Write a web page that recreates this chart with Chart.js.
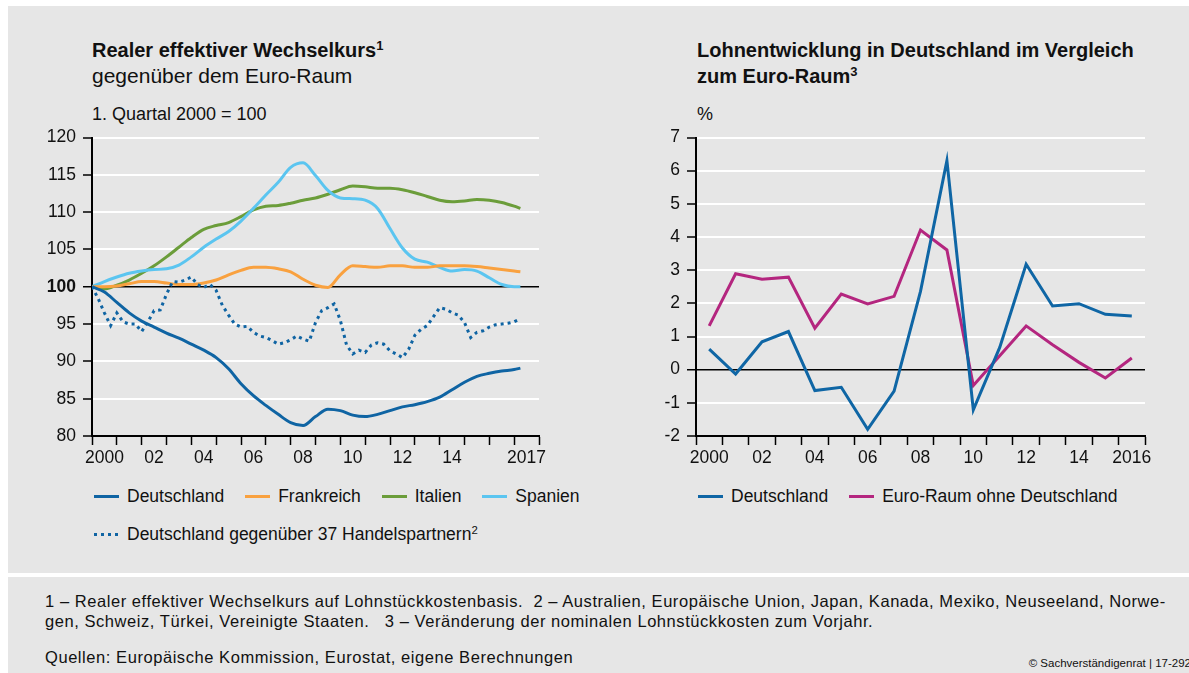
<!DOCTYPE html>
<html lang="de">
<head>
<meta charset="utf-8">
<script src="https://cdn.jsdelivr.net/npm/chart.js@4"></script>
<style>
  body { margin: 0; background: #fff; font-family: "Liberation Sans", Arial, sans-serif; color: #111; }
  #page { position: relative; width: 1189px; height: 673px; overflow: hidden; }
  .panel { position: absolute; left: 8px; width: 1181px; background: #e6e6e6; }
  .abs { position: absolute; white-space: nowrap; }
  .title { font-weight: bold; font-size: 20px; line-height: 26px; }
  .sub { font-size: 21px; line-height: 26px; }
  .small { font-size: 18px; }
  sup { font-size: 65%; line-height: 0; vertical-align: 0.55em; }
  canvas { position: absolute; }
  .leg { position: absolute; font-size: 17.5px; white-space: nowrap; }
  .sw { display: inline-block; width: 25px; height: 3px; margin-right: 8px; vertical-align: middle; position: relative; top: -1px; }
  .item { display: inline-block; margin-right: 16px; }
  .foot { font-size: 16.5px; line-height: 20px; letter-spacing: 0.56px; }
</style>
</head>
<body>
<div id="page">
  <div class="panel" style="top:6px;height:567px;"></div>
  <div class="panel" style="top:577px;height:96px;"></div>

  <div class="abs title" style="left:92px;top:37px;">Realer effektiver Wechselkurs<sup>1</sup></div>
  <div class="abs sub" style="left:92px;top:63px;">gegenüber dem Euro-Raum</div>
  <div class="abs small" style="left:92px;top:104px;">1. Quartal 2000 = 100</div>

  <div class="abs title" style="left:697px;top:37px;">Lohnentwicklung in Deutschland im Vergleich<br>zum Euro-Raum<sup>3</sup></div>
  <div class="abs small" style="left:697px;top:104px;">%</div>

  <canvas id="leftChart" width="530" height="360" style="left:30px;top:120px;"></canvas>
  <canvas id="rightChart" width="530" height="360" style="left:640px;top:120px;"></canvas>

  <div class="leg" style="left:94px;top:486px;">
    <span class="item"><span class="sw" style="background:#0f64a3"></span>Deutschland</span>
    <span class="item"><span class="sw" style="background:#f9a13f"></span>Frankreich</span>
    <span class="item"><span class="sw" style="background:#6b9d3a"></span>Italien</span>
    <span class="item"><span class="sw" style="background:#5bc5f0"></span>Spanien</span>
  </div>
  <div class="leg" style="left:94px;top:524px;">
    <span class="item"><span class="sw" style="background:repeating-linear-gradient(90deg,#0f64a3 0 3px,transparent 3px 7px)"></span>Deutschland gegenüber 37 Handelspartnern<sup>2</sup></span>
  </div>
  <div class="leg" style="left:698px;top:486px;">
    <span class="item"><span class="sw" style="background:#0f66a5"></span>Deutschland</span>
    <span class="item"><span class="sw" style="background:#b4267f"></span>Euro-Raum ohne Deutschland</span>
  </div>

  <div class="abs foot" style="left:45px;top:591px;">1 – Realer effektiver Wechselkurs auf Lohnstückkostenbasis.&nbsp; 2 – Australien, Europäische Union, Japan, Kanada, Mexiko, Neuseeland, Norwe-<br>gen, Schweiz, Türkei, Vereinigte Staaten.&nbsp;&nbsp; 3 – Veränderung der nominalen Lohnstückkosten zum Vorjahr.</div>
  <div class="abs foot" style="left:45px;top:647px;">Quellen: Europäische Kommission, Eurostat, eigene Berechnungen</div>
  <div class="abs" style="right:-2px;top:657px;font-size:11.5px;font-family:'Liberation Sans Narrow','Liberation Sans',sans-serif;">© Sachverständigenrat | 17-292</div>
</div>

<script>
// Linke Grafik: halbjährliche Stützpunkte (Quartal 1 2000 = 100)
const halfYears = [2000, 2000.5, 2001, 2001.5, 2002, 2002.5, 2003, 2003.5, 2004, 2004.5,
  2005, 2005.5, 2006, 2006.5, 2007, 2007.5, 2008, 2008.5, 2009, 2009.5,
  2010, 2010.5, 2011, 2011.5, 2012, 2012.5, 2013, 2013.5, 2014, 2014.5,
  2015, 2015.5, 2016, 2016.5, 2017, 2017.25];

const deutschland = [100, 99.3, 97.9, 96.5, 95.4, 94.6, 93.8, 93.1, 92.3, 91.5,
  90.5, 89.0, 87.0, 85.4, 84.1, 82.9, 81.8, 81.4, 82.6, 83.6,
  83.4, 82.8, 82.6, 82.9, 83.4, 83.9, 84.2, 84.6, 85.2, 86.2,
  87.2, 88.0, 88.4, 88.7, 88.9, 89.1];
const frankreich = [100, 100.0, 100.1, 100.4, 100.7, 100.7, 100.5, 100.3, 100.3, 100.5,
  100.9, 101.6, 102.2, 102.6, 102.6, 102.4, 102.0, 101.0, 100.2, 99.9,
  101.6, 102.8, 102.7, 102.6, 102.8, 102.8, 102.6, 102.6, 102.8, 102.8,
  102.8, 102.7, 102.5, 102.3, 102.1, 102.0];
const italien = [100, 99.7, 100.2, 100.9, 101.8, 102.8, 104.0, 105.3, 106.6, 107.7,
  108.2, 108.6, 109.4, 110.3, 110.8, 110.9, 111.2, 111.6, 111.9, 112.4,
  113.0, 113.5, 113.4, 113.2, 113.2, 113.0, 112.6, 112.1, 111.6, 111.4,
  111.5, 111.7, 111.6, 111.3, 110.8, 110.5];
const spanien = [100, 100.7, 101.3, 101.8, 102.1, 102.3, 102.4, 102.9, 104.0, 105.3,
  106.4, 107.4, 108.8, 110.5, 112.3, 114.0, 116.0, 116.6, 114.9, 112.9,
  111.9, 111.8, 111.6, 110.5, 107.8, 105.2, 103.7, 103.3, 102.6, 102.1,
  102.3, 102.1, 101.2, 100.3, 100.0, 100.0];

// Quartalswerte 2000 Q1 bis 2017 Q2
const quarters = Array.from({ length: 70 }, (_, i) => 2000 + i / 4);
const handelspartner = [100.0, 98.4, 96.5, 94.8, 96.5, 95.3, 95.0, 95.0, 94.0, 95.3,
  96.8, 96.9, 99.0, 100.7, 100.6, 100.9, 101.3, 100.3, 99.9, 100.3,
  99.5, 97.5, 96.2, 95.0, 94.6, 94.7, 93.9, 93.4, 93.2, 92.8,
  92.3, 92.5, 92.9, 93.4, 93.0, 92.7, 95.2, 96.8, 97.2, 97.7,
  95.5, 92.2, 91.0, 91.5, 91.2, 92.2, 92.5, 92.3, 91.4, 91.0,
  90.5, 91.6, 93.5, 94.3, 94.8, 96.0, 97.2, 97.0, 96.5, 96.2,
  95.2, 93.2, 93.9, 94.1, 94.6, 94.9, 95.0, 95.1, 95.3, 95.7];

const leftTickYears = [2000, 2002, 2004, 2006, 2008, 2010, 2012, 2014, 2017];
const leftTickText = ['2000', '02', '04', '06', '08', '10', '12', '14', '2017'];

// Rechte Grafik: Veränderung der Lohnstückkosten in %
const years = [2000, 2001, 2002, 2003, 2004, 2005, 2006, 2007, 2008, 2009,
  2010, 2011, 2012, 2013, 2014, 2015, 2016];
const lohnDeutschland = [0.62, -0.13, 0.84, 1.15, -0.63, -0.53, -1.80, -0.65, 2.36, 6.30,
  -1.21, 0.67, 3.18, 1.92, 1.99, 1.67, 1.62];
const lohnEuroRaum = [1.32, 2.89, 2.73, 2.79, 1.25, 2.28, 1.98, 2.21, 4.21, 3.61,
  -0.48, 0.42, 1.32, 0.75, 0.22, -0.25, 0.35];

const rightTickYears = [2000, 2002, 2004, 2006, 2008, 2010, 2012, 2014, 2016];
const rightTickText = ['2000', '02', '04', '06', '08', '10', '12', '14', '2016'];

Chart.defaults.font.family = '"Liberation Sans", Arial, sans-serif';
Chart.defaults.color = '#111';

const toPoints = (xs, ys) => xs.map((x, i) => ({ x: x, y: ys[i] }));

function xAxis(min, max, tickYears, tickText) {
  const labels = {};
  tickYears.forEach((y, i) => { labels[String(y + 0.5)] = tickText[i]; });
  return {
    type: 'linear',
    min: min,
    max: max,
    afterBuildTicks: scale => {
      const t = [];
      for (let y = min; y <= max; y++) {
        t.push({ value: y });
        if (y < max) t.push({ value: y + 0.5 });
      }
      scale.ticks = t;
    },
    afterFit: scale => { scale.height = 44; },
    ticks: {
      autoSkip: false,
      maxRotation: 0,
      minRotation: 0,
      padding: 3,
      font: { size: 17.5 },
      color: '#111',
      callback: value => labels[String(value)] || ''
    },
    grid: {
      drawOnChartArea: false,
      drawTicks: true,
      tickLength: 9,
      tickWidth: 1.5,
      tickColor: ctx => (ctx.tick && Number.isInteger(ctx.tick.value)) ? '#000' : 'rgba(0,0,0,0)'
    },
    border: { display: true, color: '#000', width: 2 }
  };
}

function yAxis(min, max, step, base, width, boldBase) {
  return {
    min: min,
    max: max,
    afterFit: scale => { scale.width = width; },
    ticks: {
      stepSize: step,
      padding: 7,
      color: '#111',
      font: ctx => ({ size: 17.5, weight: (boldBase && ctx.tick && ctx.tick.value === base) ? 'bold' : 'normal' })
    },
    grid: {
      color: ctx => (ctx.tick && ctx.tick.value === base) ? '#000' : '#fff',
      lineWidth: ctx => (ctx.tick && ctx.tick.value === base) ? 1.5 : 2,
      drawTicks: true,
      tickLength: 9,
      tickWidth: 1.5,
      tickColor: '#000'
    },
    border: { display: true, color: '#000', width: 2 }
  };
}

const commonOptions = {
  responsive: false,
  animation: false,
  events: [],
  plugins: { legend: { display: false }, tooltip: { enabled: false } },
  elements: { point: { radius: 0 } }
};

new Chart(document.getElementById('leftChart'), {
  type: 'line',
  data: {
    datasets: [
      { label: 'Deutschland', data: toPoints(halfYears, deutschland), borderColor: '#0f64a3', borderWidth: 3, cubicInterpolationMode: 'monotone' },
      { label: 'Deutschland gegenüber 37 Handelspartnern', data: toPoints(quarters, handelspartner), borderColor: '#0f64a3', borderWidth: 3, borderDash: [3, 4], tension: 0 },
      { label: 'Frankreich', data: toPoints(halfYears, frankreich), borderColor: '#f9a13f', borderWidth: 3, cubicInterpolationMode: 'monotone' },
      { label: 'Spanien', data: toPoints(halfYears, spanien), borderColor: '#5bc5f0', borderWidth: 3, cubicInterpolationMode: 'monotone' },
      { label: 'Italien', data: toPoints(halfYears, italien), borderColor: '#6b9d3a', borderWidth: 3, cubicInterpolationMode: 'monotone' }
    ]
  },
  options: Object.assign({}, commonOptions, {
    layout: { padding: { top: 15, right: 21, left: 0, bottom: 0 } },
    scales: {
      x: xAxis(2000, 2018, leftTickYears, leftTickText),
      y: yAxis(80, 120, 5, 100, 62, true)
    }
  })
});

new Chart(document.getElementById('rightChart'), {
  type: 'line',
  data: {
    datasets: [
      { label: 'Deutschland', data: toPoints(years.map(y => y + 0.5), lohnDeutschland), borderColor: '#0f66a5', borderWidth: 3, tension: 0 },
      { label: 'Euro-Raum ohne Deutschland', data: toPoints(years.map(y => y + 0.5), lohnEuroRaum), borderColor: '#b4267f', borderWidth: 3, tension: 0 }
    ]
  },
  options: Object.assign({}, commonOptions, {
    layout: { padding: { top: 15, right: 25, left: 0, bottom: 0 } },
    scales: {
      x: xAxis(2000, 2017, rightTickYears, rightTickText),
      y: yAxis(-2, 7, 1, 0, 56, false)
    }
  })
});
</script>
</body>
</html>
